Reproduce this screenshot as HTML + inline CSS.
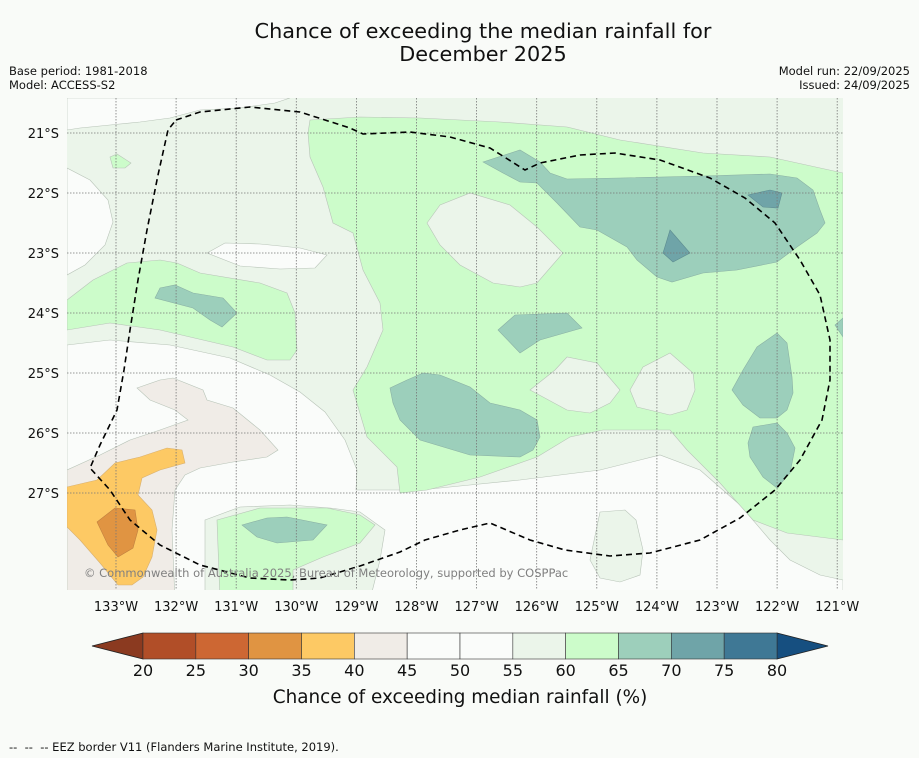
<!DOCTYPE html>
<html><head><meta charset="utf-8"><style>
html,body{margin:0;padding:0;background:#f9fbf8;}
svg{display:block;font-family:"DejaVu Sans","Liberation Sans",sans-serif;}
</style></head><body>
<svg width="919" height="758" viewBox="0 0 919 758" xmlns="http://www.w3.org/2000/svg">
<rect width="919" height="758" fill="#f9fbf8"/>
<text x="483" y="38" font-size="20.8" text-anchor="middle" fill="#111">Chance of exceeding the median rainfall for</text>
<text x="483" y="61" font-size="20.8" text-anchor="middle" fill="#111">December 2025</text>
<text x="9" y="75" font-size="11.5" fill="#111">Base period: 1981-2018</text>
<text x="9" y="89" font-size="11.5" fill="#111">Model: ACCESS-S2</text>
<text x="910" y="75" font-size="11.5" text-anchor="end" fill="#111">Model run: 22/09/2025</text>
<text x="910" y="89" font-size="11.5" text-anchor="end" fill="#111">Issued: 24/09/2025</text>

<defs><clipPath id="mapclip"><rect x="67" y="98" width="776" height="492"/></clipPath></defs>
<g clip-path="url(#mapclip)" stroke="#b8c4b8" stroke-width="0.6">
<rect x="67" y="98" width="776" height="492" fill="#ebf5ea" stroke="none"/>
<polygon fill="#fafcfa" points="67,98 290,98 275,103 240,108 200,110 170,118 140,122 110,125 80,128 67,130"/>
<polygon fill="#fafcfa" points="67,168 90,180 108,200 113,222 105,245 85,265 67,275"/>
<polygon fill="#fafcfa" points="207,253 225,243 260,244 300,248 327,255 315,268 280,269 240,266"/>
<polygon fill="#fafcfa" points="67,345 110,340 170,345 230,358 270,375 300,392 325,412 345,440 357,470 356,490 420,490 470,485 520,480 600,470 660,455 700,470 740,505 770,540 790,560 820,575 843,580 843,600 67,600"/>
<polygon fill="#ebf5ea" points="205,520 240,507 290,505 330,508 360,512 385,530 380,560 370,600 205,600"/>
<polygon fill="#ebf5ea" points="600,512 625,510 636,520 643,550 640,575 620,582 600,578 590,560"/>
<polygon fill="#ccfcca" points="310,120 360,117 420,118 500,122 567,127 620,140 703,153 770,157 843,173 843,540 787,533 753,520 720,483 687,450 670,430 603,430 570,437 537,457 480,477 427,490 400,493 397,467 367,437 353,390 367,367 383,330 380,303 363,270 353,233 333,223 323,187 310,157 308,133"/>
<polygon fill="#ebf5ea" points="427,223 440,205 470,193 510,205 537,227 563,253 537,283 520,287 493,283 460,265 440,245"/>
<polygon fill="#ebf5ea" points="530,390 555,370 567,357 597,363 620,390 610,403 590,413 567,410"/>
<polygon fill="#ebf5ea" points="630,390 643,367 670,353 693,373 695,390 687,410 670,415 637,407"/>
<polygon fill="#ccfcca" points="67,300 93,280 127,263 160,260 177,263 200,273 260,283 287,293 295,313 297,350 290,360 267,360 233,347 160,330 110,323 67,330"/>
<polygon fill="#ccfcca" points="110,157 117,154 131,163 125,168 113,168"/>
<polygon fill="#ccfcca" points="217,520 260,508 327,508 360,515 375,525 360,543 323,557 293,570 293,600 220,600"/>
<g fill="#9ccfbb" stroke="#8ab0a4">
<polygon points="483,162 520,150 540,162 550,173 567,179 620,178 703,176 770,174 797,178 813,190 820,210 825,223 817,233 797,247 777,262 737,270 703,273 672,282 657,277 637,260 627,247 597,230 580,227 557,203 537,183 520,182 503,173"/>
<polygon points="498,330 515,315 567,313 582,328 540,340 520,353"/>
<polygon points="390,388 407,380 423,373 440,375 470,387 490,403 520,410 537,420 540,437 533,450 520,457 470,455 420,440 400,420 393,403"/>
<polygon points="777,333 787,343 792,377 793,393 787,410 777,418 760,418 743,405 732,390 743,370 757,347"/>
<polygon points="753,427 777,423 787,433 795,448 790,473 777,488 763,477 750,457 748,443"/>
<polygon points="843,318 835,325 843,337"/>
<polygon points="155,298 160,288 175,285 193,293 223,298 237,313 222,327 210,320 193,308"/>
<polygon points="242,525 267,518 287,517 327,525 313,540 277,543 257,537"/>
</g>
<g fill="#6fa4a8" stroke="#5d8c90">
<polygon points="670,230 690,253 673,262 663,253 667,240"/>
<polygon points="748,195 770,190 782,193 778,208 763,207"/>
</g>
<polygon fill="#f0ece7" points="137,388 160,380 173,378 203,390 207,400 233,408 260,430 278,450 267,457 233,462 200,468 185,475 175,490 172,530 175,600 67,600 67,470 100,455 130,440 160,430 188,420 175,410 150,400"/>
<polygon fill="#fdc964" stroke="#d8b070" points="67,487 97,480 115,463 140,457 167,448 182,450 185,463 160,470 142,478 138,495 152,510 157,530 152,557 143,577 132,585 118,585 100,563 80,540 67,527"/>
<polygon fill="#e09442" stroke="#c08040" points="97,522 115,508 135,510 138,530 133,548 118,557 108,545"/>
</g>

<g id="grid"></g>
<path d="M176,120 L200,112 L250,107 L300,112 L350,128 L363,134 L410,132 L450,137 L490,148 L525,170 L540,163 L580,155 L615,153 L660,160 L710,178 L745,198 L775,223 L800,260 L820,295 L830,340 L830,380 L822,420 L800,460 L775,490 L740,518 L700,540 L650,553 L610,556 L565,550 L530,540 L490,523 L460,530 L425,540 L400,552 L360,566 L320,578 L290,580 L250,578 L200,565 L160,545 L130,520 L110,490 L90,468 L100,445 L117,410 L124,370 L130,330 L138,280 L147,230 L158,175 L168,130 Z" fill="none" stroke="#000" stroke-width="1.6" stroke-dasharray="6,4"/>
<text x="84" y="577" font-size="11.5" fill="#808080">© Commonwealth of Australia 2025, Bureau of Meteorology, supported by COSPPac</text>
<g id="axes"></g>
<g id="cbar"></g>
<text x="460" y="703" font-size="18.4" text-anchor="middle" fill="#111">Chance of exceeding median rainfall (%)</text>
<text x="9" y="751" font-size="11.5" fill="#111" xml:space="preserve">--  --  -- EEZ border V11 (Flanders Marine Institute, 2019).</text>
</svg>
<script>
const lonLabels=["133°W","132°W","131°W","130°W","129°W","128°W","127°W","126°W","125°W","124°W","123°W","122°W","121°W"];
const latLabels=["21°S","22°S","23°S","24°S","25°S","26°S","27°S"];
const levels=[20,25,30,35,40,45,50,55,60,65,70,75,80];
const levelColors=["#b14e28","#cd6733","#e09442","#fdc964","#f0ece7","#fafcfa","#fafcfa","#ebf5ea","#ccfcca","#9dcfbb","#6fa4a8","#3f7895"];
const NS="http://www.w3.org/2000/svg";
function mk(t,a,p){const e=document.createElementNS(NS,t);for(const k in a)e.setAttribute(k,a[k]);p.appendChild(e);return e;}
const xLon=i=>116+i*60.1, yLat=i=>133+i*60;
const grid=document.getElementById('grid'), axes=document.getElementById('axes');
lonLabels.forEach((l,i)=>{
  const ln=mk('line',{x1:xLon(i),x2:xLon(i),y1:98,y2:590,stroke:'#777','stroke-width':0.8,'stroke-dasharray':'1.5,1.5'},grid);
  
  
  const t=mk('text',{x:xLon(i),y:611,'font-size':13,'text-anchor':'middle',fill:'#111'},axes);
  t.textContent=l;
  
  
});
latLabels.forEach((l,i)=>{
  const ln=mk('line',{x1:67,x2:843,y1:yLat(i),y2:yLat(i),stroke:'#777','stroke-width':0.8,'stroke-dasharray':'1.5,1.5'},grid);
  
  
  const t=mk('text',{x:59,y:yLat(i)+5,'font-size':13,'text-anchor':'end',fill:'#111'},axes);
  t.textContent=l;
  
  
});
const cb=document.getElementById('cbar');
const x0=143,x1=777,yT=633,yB=659;
const xl=v=>x0+(v-levels[0])/(levels[levels.length-1]-levels[0])*(x1-x0);
const le=mk('polygon',{points:`${x0},${yT} ${x0},${yB} 92,${(yT+yB)/2}`,fill:'#8b3a20',stroke:'#222','stroke-width':0.8},cb);


const re=mk('polygon',{points:`${x1},${yT} ${x1},${yB} 828,${(yT+yB)/2}`,fill:'#164f80',stroke:'#222','stroke-width':0.8},cb);


levelColors.forEach((c,i)=>{
  const r=mk('rect',{x:xl(levels[i]),y:yT,width:xl(levels[i+1])-xl(levels[i]),height:yB-yT,fill:c,stroke:'#333','stroke-width':0.6},cb);
  
  
});
levels.forEach(v=>{
  const t=mk('text',{x:xl(v),y:676,'font-size':16,'text-anchor':'middle',fill:'#111'},cb);
  t.textContent=v;
  
  
});
</script>
</body></html>
